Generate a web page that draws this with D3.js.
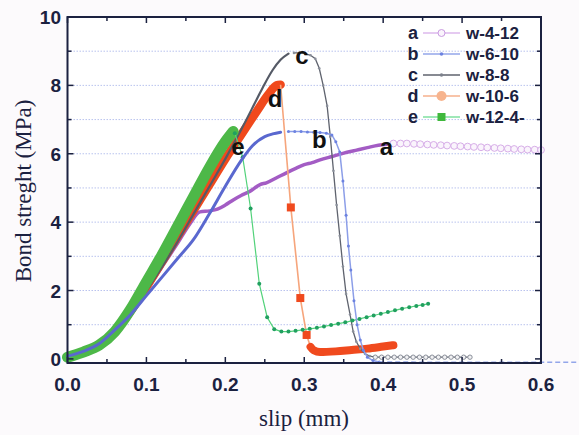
<!DOCTYPE html>
<html>
<head>
<meta charset="utf-8">
<script src="https://cdn.jsdelivr.net/npm/d3@7/dist/d3.min.js"></script>
<style>
  body { margin: 0; background: #fcfafc; }
  svg { display: block; }
</style>
</head>
<body>
<svg id="chart" width="579" height="435"></svg>
<script>
// series data, [slip (mm), bond strength (MPa)]
// "rise" = dense part drawn as a thick band, "tail" = sparse part with markers
const aRise = [[0,0.05],[0.02,0.2],[0.04,0.42],[0.06,0.8],[0.08,1.35],[0.1,2.0],[0.12,2.7],[0.14,3.4],[0.155,3.95],[0.168,4.3],[0.18,4.33],[0.19,4.38],[0.2,4.5],[0.21,4.65],[0.22,4.78],[0.231,4.9],[0.244,5.1],[0.252,5.15],[0.265,5.3],[0.278,5.45],[0.29,5.58],[0.3,5.68],[0.31,5.74],[0.32,5.82],[0.335,5.92],[0.35,6.02],[0.365,6.1],[0.38,6.18],[0.394,6.25],[0.405,6.28]];
const aTail = [[0.413,6.3],[0.422,6.3],[0.43,6.3],[0.439,6.29],[0.447,6.28],[0.456,6.27],[0.464,6.26],[0.473,6.25],[0.481,6.24],[0.49,6.23],[0.498,6.22],[0.507,6.21],[0.515,6.2],[0.524,6.19],[0.532,6.18],[0.541,6.17],[0.549,6.16],[0.558,6.15],[0.566,6.14],[0.575,6.13],[0.583,6.12],[0.592,6.12],[0.6,6.11]];

const bRise = [[0,0.08],[0.02,0.22],[0.04,0.44],[0.06,0.85],[0.08,1.3],[0.1,1.85],[0.12,2.4],[0.14,2.95],[0.16,3.5],[0.18,4.25],[0.2,5.05],[0.22,5.8],[0.235,6.25],[0.25,6.5],[0.26,6.58],[0.27,6.63]];
const bTail = [[0.28,6.65],[0.288,6.65],[0.296,6.65],[0.304,6.64],[0.312,6.63],[0.32,6.62],[0.328,6.6],[0.335,6.55],[0.34,6.35],[0.345,6.05],[0.349,5.2],[0.353,4.2],[0.356,3.3],[0.359,2.6],[0.363,1.7],[0.367,1.0],[0.371,0.55],[0.375,0.25],[0.38,0.05],[0.387,-0.05],[0.395,-0.09]];
const bFloor = [[0.395,-0.09],[0.5,-0.1],[0.6,-0.1],[0.66,-0.1]];

const cRise = [[0,0.05],[0.02,0.2],[0.04,0.42],[0.06,0.8],[0.08,1.35],[0.1,2.0],[0.12,2.7],[0.14,3.45],[0.16,4.25],[0.18,5.05],[0.2,5.85],[0.22,6.7],[0.24,7.6],[0.25,8.05],[0.26,8.45],[0.27,8.75],[0.28,8.93]];
const cTail = [[0.287,8.95],[0.294,8.95],[0.301,8.93],[0.308,8.88],[0.314,8.78],[0.319,8.5],[0.324,8.0],[0.329,7.4],[0.333,6.5],[0.337,5.5],[0.341,4.5],[0.345,3.6],[0.349,2.7],[0.353,1.9],[0.358,1.3],[0.362,0.8],[0.366,0.5],[0.371,0.3],[0.377,0.15],[0.383,0.08],[0.39,0.05],[0.398,0.05],[0.406,0.05],[0.414,0.05],[0.422,0.05],[0.43,0.05],[0.438,0.05],[0.446,0.05],[0.454,0.05],[0.462,0.05],[0.47,0.05],[0.478,0.05],[0.486,0.05],[0.494,0.05],[0.502,0.05],[0.51,0.05]];

const dRise = [[0,0.05],[0.02,0.19],[0.04,0.4],[0.06,0.8],[0.08,1.4],[0.1,2.1],[0.12,2.85],[0.14,3.6],[0.16,4.35],[0.18,5.1],[0.2,5.85],[0.22,6.55],[0.24,7.25],[0.255,7.75],[0.265,8.0],[0.27,8.02]];
const dTail = [[0.27,8.02],[0.283,4.43],[0.295,1.78],[0.303,0.7],[0.308,0.35]];
const dFloor = [[0.308,0.35],[0.312,0.25],[0.32,0.2],[0.34,0.22],[0.36,0.26],[0.38,0.3],[0.4,0.36],[0.413,0.4]];

const eRise = [[0,0.05],[0.02,0.2],[0.04,0.4],[0.06,0.8],[0.08,1.45],[0.1,2.25],[0.12,3.05],[0.14,3.9],[0.16,4.75],[0.18,5.6],[0.2,6.35],[0.21,6.65]];
const eTail = [[0.212,6.6],[0.222,5.9],[0.232,4.4],[0.243,2.2],[0.253,1.22],[0.262,0.87],[0.271,0.8],[0.28,0.8],[0.289,0.82],[0.298,0.85],[0.307,0.88],[0.316,0.91],[0.325,0.95],[0.334,0.99],[0.343,1.03],[0.352,1.07],[0.361,1.12],[0.37,1.17],[0.379,1.22],[0.388,1.27],[0.397,1.32],[0.406,1.37],[0.415,1.42],[0.424,1.47],[0.433,1.51],[0.442,1.55],[0.45,1.58],[0.457,1.61]];

const legendKeys = ["a", "b", "c", "d", "e"];
const legendNames = ["w-4-12", "w-6-10", "w-8-8", "w-10-6", "w-12-4-"];
const curveLabels = [["a",0.404,6.2],["b",0.319,6.4],["c",0.297,8.85],["d",0.263,7.6],["e",0.216,6.2]];

const xTicks = [0, 0.1, 0.2, 0.3, 0.4, 0.5, 0.6];
const yTicks = [0, 2, 4, 6, 8, 10];

const svg = d3.select("#chart");
const mLeft = 67.5, mRight = 541, mTop = 17, mBottom = 363;

const x = d3.scaleLinear().domain([0, 0.6]).range([mLeft, mRight]);
const y = d3.scaleLinear().domain([-0.12, 10]).range([mBottom, mTop]);

const line = d3.line().x(d => x(d[0])).y(d => y(d[1]));
const smooth = d3.line().x(d => x(d[0])).y(d => y(d[1])).curve(d3.curveMonotoneX);

svg.append("rect")
  .attr("x", mLeft).attr("y", mTop)
  .attr("width", mRight - mLeft).attr("height", mBottom - mTop)
  .attr("fill", "#ffffff");

// dotted grid every 1 MPa
svg.append("g").selectAll("line")
  .data(d3.range(1, 10))
  .enter().append("line")
  .attr("x1", mLeft).attr("x2", mRight)
  .attr("y1", d => y(d)).attr("y2", d => y(d))
  .attr("stroke", "#b9c3ee")
  .attr("stroke-width", 1)
  .attr("stroke-dasharray", "1.5,1.5");

const plot = svg.append("g");

function band(data, color, w) {
  return plot.append("path").attr("d", smooth(data))
    .attr("fill", "none").attr("stroke", color)
    .attr("stroke-width", w).attr("stroke-linejoin", "round").attr("stroke-linecap", "round");
}
function thin(data, color, w) {
  return plot.append("path").attr("d", line(data))
    .attr("fill", "none").attr("stroke", color).attr("stroke-width", w);
}
function dots(data, r, fill, stroke) {
  plot.append("g").selectAll("circle").data(data).enter().append("circle")
    .attr("cx", d => x(d[0])).attr("cy", d => y(d[1])).attr("r", r)
    .attr("fill", fill).attr("stroke", stroke || "none").attr("stroke-width", 1);
}

// a
band(aRise, "#a35cc4", 3.5);
thin(aTail, "#dcb8ec", 1.2);
dots(aTail, 3.4, "#faf4fc", "#d7aee8");

// d
band(dRise, "#f0491c", 8.5);
thin(dTail, "#f6a57c", 1.6);
plot.append("g").selectAll("rect").data(dTail.slice(1, 4)).enter().append("rect")
  .attr("x", d => x(d[0]) - 4).attr("y", d => y(d[1]) - 4)
  .attr("width", 8).attr("height", 8).attr("fill", "#f04a1e");
band(dFloor, "#f04a1e", 8);

// c
band(cRise, "#555a66", 2.2);
thin(cTail, "#5f636e", 1.3);
dots(cTail.slice(0, 20), 1.3, "#8a8f9a");
dots(cTail.slice(20), 2.2, "#f2f2f4", "#8a8f9a");

// e
band(eRise, "#4db848", 11);
thin(eTail, "#52d27a", 1.2);
dots(eTail, 2, "#21a060");

// b
band(bRise, "#5a68cf", 3);
thin(bTail, "#8c9ee8", 1.5);
dots(bTail, 1.5, "#6c82e0");
thin(bFloor, "#93a6ea", 1.5).attr("stroke-dasharray", "5,3");

// frame and ticks (inside, all four sides)
svg.append("rect")
  .attr("x", mLeft).attr("y", mTop)
  .attr("width", mRight - mLeft).attr("height", mBottom - mTop)
  .attr("fill", "none").attr("stroke", "#1b2140").attr("stroke-width", 2);

const tickG = svg.append("g").attr("stroke", "#1b2140").attr("stroke-width", 1.5);
d3.range(0, 13).forEach(i => {
  const v = i * 0.05;
  const len = i % 2 === 0 ? 6 : 4;
  tickG.append("line").attr("x1", x(v)).attr("x2", x(v)).attr("y1", mBottom).attr("y2", mBottom - len);
  tickG.append("line").attr("x1", x(v)).attr("x2", x(v)).attr("y1", mTop).attr("y2", mTop + len);
});
d3.range(0, 11).forEach(v => {
  const len = v % 2 === 0 ? 6 : 4;
  tickG.append("line").attr("x1", mLeft).attr("x2", mLeft + len).attr("y1", y(v)).attr("y2", y(v));
  tickG.append("line").attr("x1", mRight).attr("x2", mRight - len).attr("y1", y(v)).attr("y2", y(v));
});

const labelFont = "Liberation Sans, Arial, sans-serif";

svg.append("g").selectAll("text").data(xTicks).enter().append("text")
  .attr("x", d => x(d)).attr("y", 391)
  .attr("text-anchor", "middle")
  .attr("font-family", labelFont).attr("font-weight", "bold").attr("font-size", 19)
  .attr("fill", "#1b2140")
  .text(d => d3.format(".1f")(d));

svg.append("g").selectAll("text").data(yTicks).enter().append("text")
  .attr("x", 61).attr("y", d => y(d) + 7)
  .attr("text-anchor", "end")
  .attr("font-family", labelFont).attr("font-weight", "bold").attr("font-size", 19)
  .attr("fill", "#1b2140")
  .text(d => d);

svg.append("text")
  .attr("x", 304).attr("y", 426)
  .attr("text-anchor", "middle")
  .attr("font-family", "Liberation Serif, Times New Roman, serif").attr("font-size", 23)
  .attr("fill", "#1b2140")
  .text("slip (mm)");

svg.append("text")
  .attr("transform", "translate(31,191) rotate(-90)")
  .attr("text-anchor", "middle")
  .attr("font-family", "Liberation Serif, Times New Roman, serif").attr("font-size", 23)
  .attr("fill", "#1b2140")
  .text("Bond streght (MPa)");

// curve letters
svg.append("g").selectAll("text").data(curveLabels).enter().append("text")
  .attr("x", d => x(d[1])).attr("y", d => y(d[2]) + 8)
  .attr("text-anchor", "middle")
  .attr("font-family", labelFont).attr("font-weight", "bold").attr("font-size", 24)
  .attr("fill", "#111")
  .text(d => d[0]);

// legend
const legendY = [33, 54, 75, 96, 117];
const legendLine = ["#dcb8ec", "#93a6ea", "#5f636e", "#f6b08c", "#7fe0a0"];
const lg = svg.append("g");
legendKeys.forEach((k, i) => {
  const ly = legendY[i];
  lg.append("text").attr("x", 413).attr("y", ly + 6).attr("text-anchor", "middle")
    .attr("font-family", labelFont).attr("font-weight", "bold").attr("font-size", 18)
    .attr("fill", "#1b2140").text(k);
  lg.append("line").attr("x1", 423).attr("x2", 460).attr("y1", ly).attr("y2", ly)
    .attr("stroke", legendLine[i]).attr("stroke-width", 1.5);
  lg.append("text").attr("x", 466).attr("y", ly + 6)
    .attr("font-family", labelFont).attr("font-weight", "bold").attr("font-size", 17)
    .attr("fill", "#1b2140").text(legendNames[i]);
});
lg.append("circle").attr("cx", 441.5).attr("cy", legendY[0]).attr("r", 3.5)
  .attr("fill", "#faf4fc").attr("stroke", "#c99be0");
lg.append("circle").attr("cx", 441.5).attr("cy", legendY[1]).attr("r", 1.8).attr("fill", "#6c82e0");
lg.append("circle").attr("cx", 441.5).attr("cy", legendY[2]).attr("r", 1.8).attr("fill", "#7d828c");
lg.append("circle").attr("cx", 441.5).attr("cy", legendY[3]).attr("r", 5).attr("fill", "#f7b48e");
lg.append("rect").attr("x", 437.5).attr("y", legendY[4] - 4).attr("width", 8).attr("height", 8).attr("fill", "#3fb83c");
</script>
</body>
</html>
